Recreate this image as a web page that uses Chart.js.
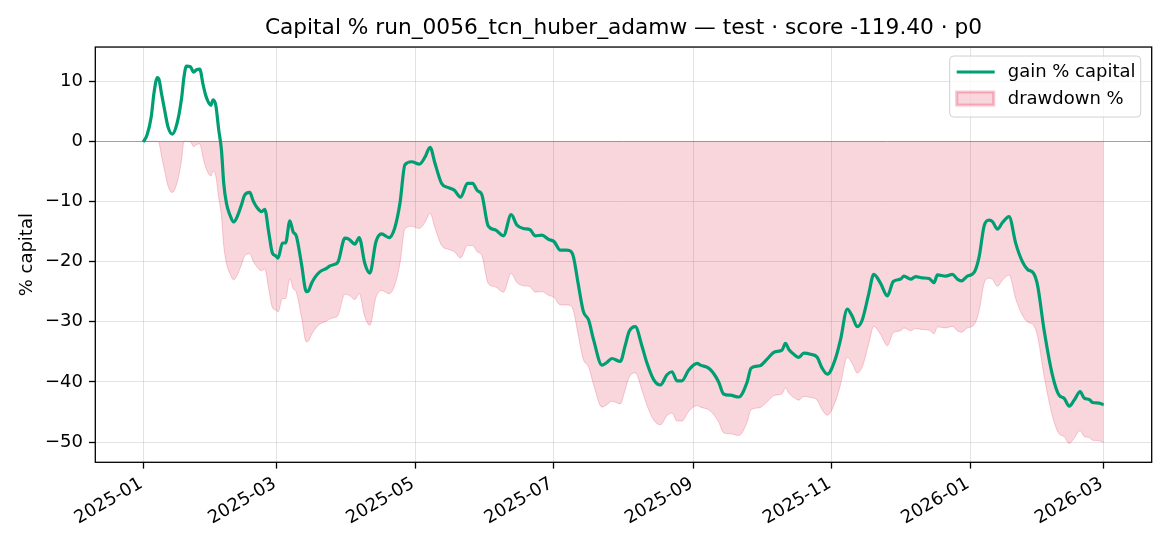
<!DOCTYPE html>
<html>
<head>
<meta charset="utf-8">
<script src="https://cdn.jsdelivr.net/npm/chart.js@4.4.1/dist/chart.umd.min.js"></script>
<style>
  html, body { margin: 0; padding: 0; background: #fff; }
  #wrap { width: 1170px; height: 546px; }
</style>
</head>
<body>
<div id="wrap"><canvas id="myChart" width="1170" height="546"></canvas></div>
<script>
// days since 2025-01-01
const dayOffsets = [
  0, 1.6, 3.5, 4.7, 6.2, 7, 8, 9.4, 10.9, 12.8,
  14.9, 16.8, 18, 19, 20.8, 22.2, 23.5, 24.9, 26.4, 27.5,
  28.6, 29.8, 30.8, 32, 33.3, 34.5, 35.5, 36.7, 38.2, 39.9,
  41.8, 43.3, 44.8, 47, 48.5, 50, 52.2, 53.6, 55.4, 57,
  58.3, 59.5, 61.4, 62.8, 64.7, 66.1, 67.6, 69.8, 72, 73,
  74.3, 76, 77.9, 80.9, 82.4, 84, 86, 89, 90.9, 93.4,
  95.3, 97.8, 100, 102.7, 105.2, 108.5, 111, 113.3, 115.5, 118.5,
  121.9, 124.4, 126.6, 128.8, 131.7, 134.7, 137.2, 140.1, 143.1, 145.4,
  147.5, 149.4, 152.3, 155.3, 159, 162.4, 164.9, 167.8, 170.8, 173,
  176, 178.9, 181.4, 184.1, 187, 188.8, 189.9, 192.1, 194.3, 196.6,
  198.8, 202.5, 204.5, 206.9, 210.6, 212.7, 214.5, 217.2, 220.2, 222.4,
  225.3, 228.3, 231.2, 233.4, 235.6, 237.8, 240.8, 244.5, 246, 249.6,
  251.8, 254, 256.2, 259.2, 262.9, 266.6, 268.3, 272.2, 275.4, 278.7,
  282, 283.5, 285, 287.5, 289.4, 291.6, 294.6, 297.5, 299.7, 302,
  305.6, 307.8, 310.8, 313, 315.2, 317.4, 320.3, 322.5, 325.5, 328.5,
  331.1, 334.4, 335.8, 338.8, 341, 344, 346.9, 349.1, 350.6, 354.2,
  357.2, 359.4, 361.2, 363.8, 366.8, 369, 371.2, 373.4, 375, 377.1,
  379.3, 382.2, 385.2, 388.1, 390.4, 393, 394.8, 397.7, 401.4, 404.3,
  406.5, 408.8, 411, 413.6, 415.4, 417.6, 419.1, 422, 424
];

const gainPct = [
  -0.1, 1.0, 4.1, 8.0, 10.6, 10.2, 8.0, 5.2, 2.4, 1.2,
  3.0, 6.9, 10.8, 12.5, 12.4, 11.5, 11.9, 12.0, 9.4, 7.7,
  6.6, 6.0, 6.9, 6.0, 1.9, -1.45, -7.0, -10.3, -12.2, -13.4,
  -12.2, -10.6, -8.9, -8.5, -9.9, -10.9, -11.7, -11.3, -15.2, -18.6,
  -19.0, -19.4, -16.9, -16.9, -13.2, -15.0, -15.8, -20.3, -25.0, -24.8,
  -23.6, -22.5, -21.7, -21.1, -20.7, -20.5, -20.0, -16.1, -16.3, -17.1,
  -16.0, -20.3, -21.9, -16.7, -15.4, -16.0, -14.4, -10.3, -3.9, -3.4,
  -3.8, -2.6, -1.0, -3.7, -7.0, -7.7, -8.1, -9.3, -7.0, -7.0,
  -8.2, -8.8, -14.1, -14.7, -15.7, -12.2, -13.9, -14.5, -14.7, -15.7,
  -15.6, -16.3, -16.7, -18.1, -18.1, -18.3, -19.2, -23.9, -28.3, -29.7,
  -33.0, -37.2, -36.8, -36.1, -36.6, -34.0, -31.6, -30.8, -34.1, -36.9,
  -39.6, -40.5, -38.8, -38.3, -39.8, -39.8, -38.0, -36.9, -37.2, -37.7,
  -38.6, -40.0, -42.0, -42.2, -42.5, -40.0, -37.7, -37.3, -36.2, -35.0,
  -34.7, -33.6, -34.6, -35.5, -35.9, -35.2, -35.4, -35.9, -37.7, -38.7,
  -36.1, -33.0, -27.9, -29.1, -30.8, -29.7, -25.3, -22.1, -23.6, -25.7,
  -23.3, -22.9, -22.4, -22.9, -22.5, -22.7, -22.8, -23.5, -22.2, -22.4,
  -22.1, -22.9, -23.2, -22.4, -21.8, -19.2, -14.1, -13.1, -13.4, -14.6,
  -13.5, -12.5, -17.0, -20.0, -21.3, -21.9, -23.9, -31.4, -38.9, -42.2,
  -42.7, -44.0, -43.0, -41.6, -42.7, -42.9, -43.4, -43.5, -43.8
];

const drawdownPct = [
  -0.1, 0, 0, 0, 0, -0.36, -2.35, -4.88, -7.41, -8.50,
  -6.87, -3.35, 0, 0, -0.09, -0.89, -0.53, -0.44, -2.76, -4.27,
  -5.24, -5.78, -4.98, -5.78, -9.42, -12.40, -17.33, -20.27, -21.96, -23.02,
  -21.96, -20.53, -19.02, -18.67, -19.91, -20.80, -21.51, -21.16, -24.62, -27.64,
  -28.00, -28.36, -26.13, -26.13, -22.84, -24.44, -25.16, -29.16, -33.33, -33.16,
  -32.09, -31.11, -30.40, -29.87, -29.51, -29.33, -28.89, -25.42, -25.60, -26.31,
  -25.33, -29.16, -30.58, -25.96, -24.80, -25.33, -23.91, -20.27, -14.58, -14.13,
  -14.49, -13.42, -12.00, -14.40, -17.33, -17.96, -18.31, -19.38, -17.33, -17.33,
  -18.40, -18.93, -23.64, -24.18, -25.07, -21.96, -23.47, -24.00, -24.18, -25.07,
  -24.98, -25.60, -25.96, -27.20, -27.20, -27.38, -28.18, -32.36, -36.27, -37.51,
  -40.44, -44.18, -43.82, -43.20, -43.64, -41.33, -39.20, -38.49, -41.42, -43.91,
  -46.31, -47.11, -45.60, -45.16, -46.49, -46.49, -44.89, -43.91, -44.18, -44.62,
  -45.42, -46.67, -48.44, -48.62, -48.89, -46.67, -44.62, -44.27, -43.29, -42.22,
  -41.96, -40.98, -41.87, -42.67, -43.02, -42.40, -42.58, -43.02, -44.62, -45.51,
  -43.20, -40.44, -35.91, -36.98, -38.49, -37.51, -33.60, -30.76, -32.09, -33.96,
  -31.82, -31.47, -31.02, -31.47, -31.11, -31.29, -31.38, -32.00, -30.84, -31.02,
  -30.76, -31.47, -31.73, -31.02, -30.49, -28.18, -23.64, -22.76, -23.02, -24.09,
  -23.11, -22.22, -26.22, -28.89, -30.04, -30.58, -32.36, -39.02, -45.69, -48.62,
  -49.07, -50.22, -49.33, -48.09, -49.07, -49.24, -49.69, -49.78, -50.04
];

const tickDays = [0, 59, 120, 181, 243, 304, 365, 424];
const tickLabels = ['2025-01', '2025-03', '2025-05', '2025-07', '2025-09', '2025-11', '2026-01', '2026-03'];
const yTicks = [-50, -40, -30, -20, -10, 0, 10];

const titleText = 'Capital % run_0056_tcn_huber_adamw \u2014 test \u00b7 score -119.40 \u00b7 p0';

Chart.defaults.font.family = "'DejaVu Sans', sans-serif";
Chart.defaults.color = '#000';

function points(ys) {
  return dayOffsets.map((d, i) => ({ x: d, y: ys[i] }));
}

// box round the axes, like matplotlib spines
const frame = {
  id: 'frame',
  afterDraw(chart) {
    const a = chart.chartArea, ctx = chart.ctx;
    ctx.save();
    ctx.strokeStyle = '#000';
    ctx.lineWidth = 1.3;
    ctx.strokeRect(a.left, a.top, a.right - a.left, a.bottom - a.top);
    ctx.restore();
  }
};

// legend inside the axes, upper right
const legendBox = {
  id: 'legendBox',
  afterDraw(chart) {
    const a = chart.chartArea, ctx = chart.ctx;
    const ds = chart.data.datasets;
    const w = 191, h = 61;
    const x = a.right - 11 - w, y = a.top + 9;
    ctx.save();
    ctx.beginPath();
    ctx.roundRect(x, y, w, h, 4);
    ctx.fillStyle = 'rgba(255,255,255,0.8)';
    ctx.fill();
    ctx.strokeStyle = '#d0d0d0';
    ctx.lineWidth = 1;
    ctx.stroke();

    // line entry
    ctx.strokeStyle = ds[0].borderColor;
    ctx.lineWidth = 3;
    ctx.beginPath();
    ctx.moveTo(x + 7, y + 16);
    ctx.lineTo(x + 45, y + 16);
    ctx.stroke();
    // patch entry
    ctx.fillStyle = ds[1].backgroundColor;
    ctx.fillRect(x + 7, y + 36, 37, 13);
    ctx.strokeStyle = 'rgba(220,20,60,0.25)';
    ctx.strokeRect(x + 7, y + 36, 37, 13);

    ctx.fillStyle = '#000';
    ctx.font = "18px 'DejaVu Sans'";
    ctx.textBaseline = 'middle';
    ctx.fillText(ds[0].label, x + 58, y + 16);
    ctx.fillText(ds[1].label, x + 58, y + 43.5);
    ctx.restore();
  }
};

const ctx = document.getElementById('myChart').getContext('2d');
const chart = new Chart(ctx, {
  type: 'line',
  data: {
    datasets: [
      {
        label: 'gain % capital',
        data: points(gainPct),
        borderColor: '#009E73',
        borderWidth: 3.2,
        pointRadius: 0,
        cubicInterpolationMode: 'monotone',
        fill: false,
        order: 0
      },
      {
        label: 'drawdown %',
        data: points(drawdownPct),
        borderColor: 'rgba(220,20,60,0.2)',
        backgroundColor: 'rgba(220,20,60,0.18)',
        borderWidth: 1,
        pointRadius: 0,
        cubicInterpolationMode: 'monotone',
        fill: 'origin',
        order: 1
      }
    ]
  },
  options: {
    responsive: false,
    devicePixelRatio: 1,
    animation: false,
    layout: { padding: { left: 0, right: 18.3, top: 0, bottom: 0 } },
    plugins: {
      legend: { display: false },
      tooltip: { enabled: false },
      title: {
        display: true,
        text: titleText,
        fullSize: false,
        color: '#000',
        font: { size: 21.7, weight: 'normal' },
        padding: { top: 15, bottom: 6 }
      }
    },
    scales: {
      x: {
        type: 'linear',
        min: -21.2,
        max: 445.2,
        afterBuildTicks: (s) => { s.ticks = tickDays.map(v => ({ value: v })); },
        afterFit: (s) => { s.height = 83.7; },
        border: { display: false },
        grid: {
          color: 'rgba(176,176,176,0.35)',
          lineWidth: 1,
          tickLength: 6.3,
          tickColor: '#000',
          tickWidth: 1.3
        },
        ticks: {
          autoSkip: false,
          maxRotation: 30,
          minRotation: 30,
          labelOffset: -2,
          padding: 4.4,
          font: { size: 18 },
          color: '#000',
          callback: (v, i) => tickLabels[i]
        }
      },
      y: {
        min: -53.35,
        max: 15.67,
        afterBuildTicks: (s) => { s.ticks = yTicks.map(v => ({ value: v })); },
        afterFit: (s) => { s.width = 95.3; },
        border: { display: false },
        grid: {
          color: (c) => c.tick && c.tick.value === 0 ? 'rgba(120,130,150,0.75)' : 'rgba(176,176,176,0.35)',
          lineWidth: 1,
          tickLength: 6.3,
          tickColor: '#000',
          tickWidth: 1.3
        },
        ticks: {
          padding: 6,
          font: { size: 18 },
          color: '#000',
          callback: (v) => v < 0 ? '\u2212' + Math.abs(v) : String(v)
        },
        title: {
          display: true,
          text: '% capital',
          color: '#000',
          font: { size: 18 },
          padding: { top: 17, bottom: 0 }
        }
      }
    }
  },
  plugins: [frame, legendBox]
});
</script>
</body>
</html>
